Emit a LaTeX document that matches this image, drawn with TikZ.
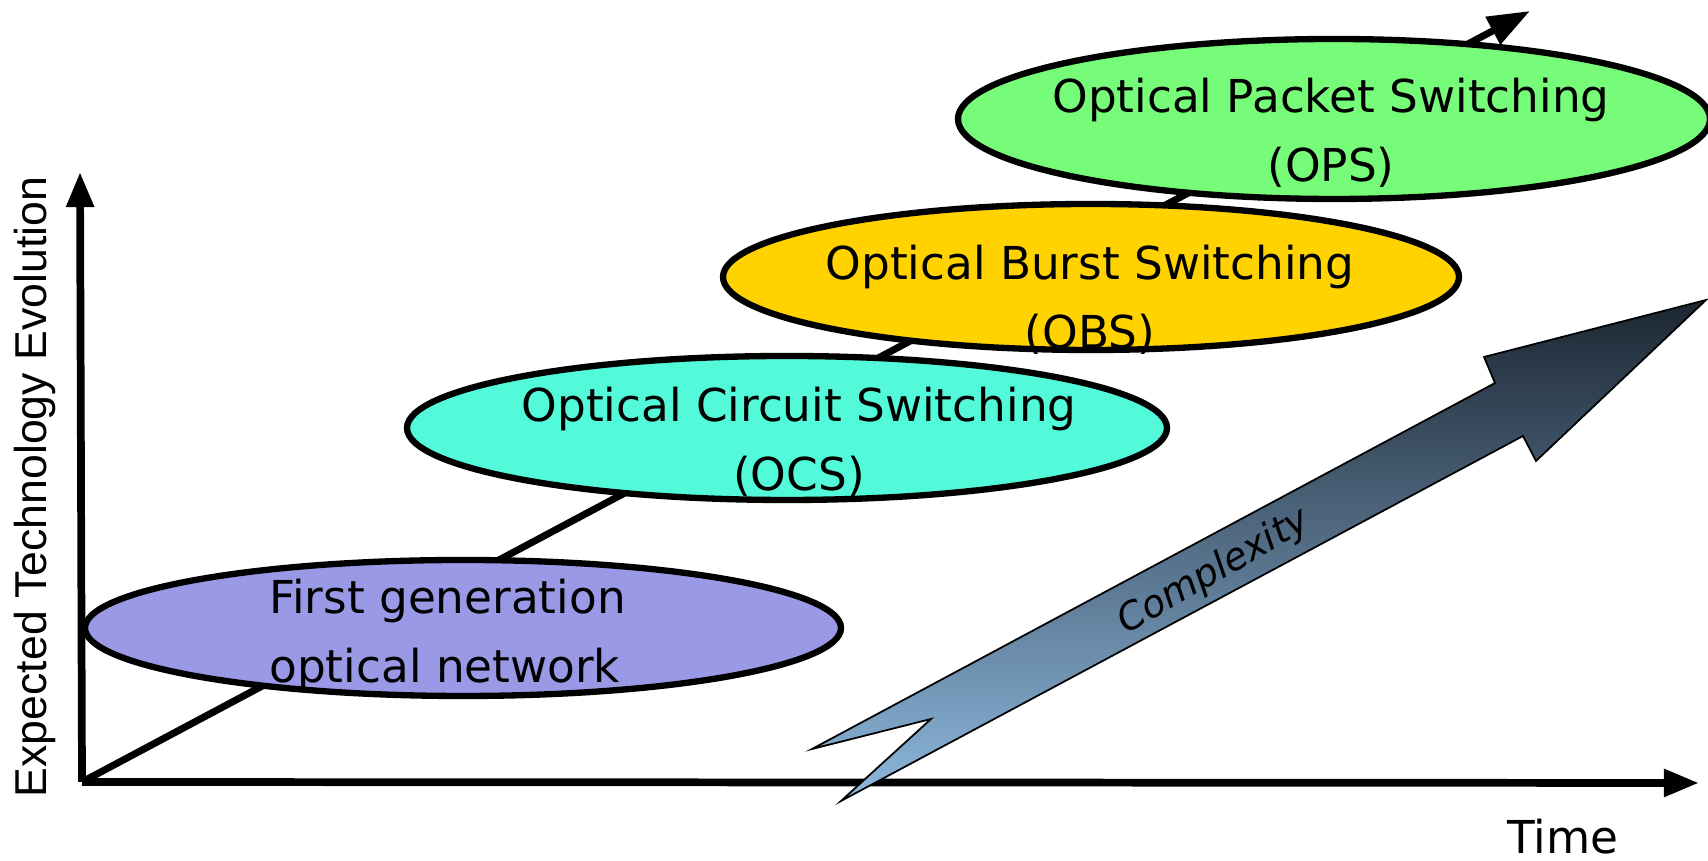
\documentclass[tikz,border=0pt]{standalone}
\usepackage{fontspec}
\setmainfont{DejaVu Sans}
\newfontfamily\axisfont{Liberation Sans}
\usepackage{tikz}
\usetikzlibrary{positioning, arrows.meta, shapes.geometric}

\definecolor{firstgen}{RGB}{153,153,230}
\definecolor{ocsfill}{RGB}{82,250,218}
\definecolor{obsfill}{RGB}{255,210,0}
\definecolor{opsfill}{RGB}{119,252,122}
\definecolor{cxdark}{RGB}{28,38,50}
\definecolor{cxlight}{RGB}{141,184,222}

\begin{document}
\begin{tikzpicture}[
  font=\fontsize{12.9}{19.6}\selectfont,
  stage/.style={draw, ellipse, line width=1.8pt, inner sep=0pt},
  axis/.style={-{Triangle[length=10pt, width=7.5pt]}, line width=2.2pt},
  txt/.style={align=center}
]
\useasboundingbox (0,0) rectangle (17.08,8.61);

\coordinate (orig) at (0.82,0.79);
\coordinate (ytip) at (0.80,6.89);
\coordinate (xtip) at (16.99,0.78);
\coordinate (trend) at (15.30,8.50);

% axes and trend line
\draw[axis] (orig) -- (ytip);
\draw[axis] (orig) -- (xtip);
\draw[-{Triangle[length=12pt, width=8.5pt]}, line width=2pt] (orig) -- (trend);

\node[stage, fill=firstgen, minimum width=7.56cm, minimum height=1.36cm] (gen1) at (4.63,2.33) {};
\node[stage, fill=ocsfill, minimum width=7.60cm, minimum height=1.44cm] (ocs) at (7.87,4.33) {};
\node[stage, fill=obsfill, minimum width=7.36cm, minimum height=1.46cm] (obs) at (10.91,5.84) {};
\node[stage, fill=opsfill, minimum width=7.52cm, minimum height=1.60cm] (ops) at (13.34,7.42) {};

\node[align=left, anchor=west] (gen1txt) at (2.57,2.255) {First generation\\optical network};
\node[txt] (ocstxt) at (7.99,4.19) {Optical Circuit Switching\\(OCS)};
\node[txt] (obstxt) at (10.90,5.61) {Optical Burst Switching\\(OBS)};
\node[txt] (opstxt) at (13.31,7.285) {Optical Packet Switching\\(OPS)};

\node[rotate=90, font=\axisfont\fontsize{12.7}{15}\selectfont] (ylab) at (0.35,3.74) {Expected Technology Evolution};
\node[inner sep=1pt] (xlab) at (15.63,0.24) {Time};

% complexity arrow
\draw[line width=0.5pt, top color=cxdark, bottom color=cxlight]
  (8.12,1.12) -- (9.31,1.42) -- (8.41,0.60) -- (15.23,4.25) -- (15.36,4.00)
  -- (17.06,5.61) -- (14.84,5.04) -- (14.95,4.78) -- cycle;
\node[rotate=30, font=\fontsize{10.8}{13}\selectfont\itshape] (cplx) at (12.14,2.89) {Complexity};
\end{tikzpicture}
\end{document}
